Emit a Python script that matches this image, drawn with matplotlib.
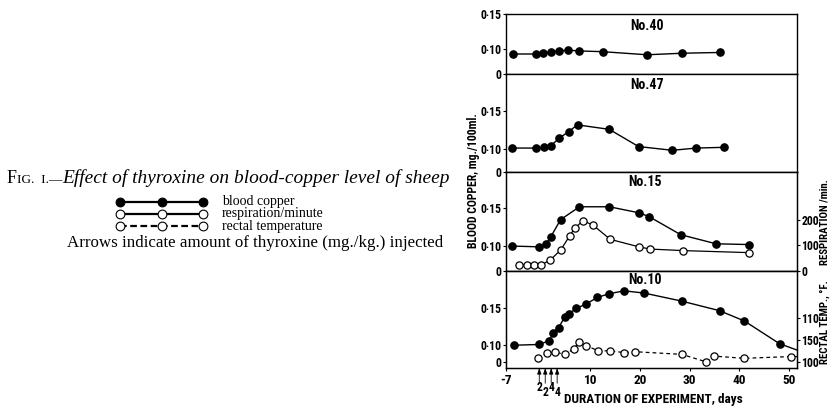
import matplotlib
matplotlib.use('Agg')
import matplotlib.pyplot as plt
from matplotlib.lines import Line2D

# ---- data ----
no40_day = [-5.6, -1.0, 0.5, 2.1, 3.7, 5.4, 7.7, 12.5, 21.4, 28.5, 36.0]
no40_cu = [0.094, 0.094, 0.095, 0.097, 0.098, 0.099, 0.098, 0.097, 0.093, 0.095, 0.096]

no47_day = [-5.8, -1.0, 0.7, 2.0, 3.7, 5.6, 7.4, 13.8, 19.7, 26.5, 31.3, 37.0]
no47_cu = [0.101, 0.101, 0.102, 0.104, 0.114, 0.123, 0.132, 0.126, 0.103, 0.098, 0.101, 0.102]

no15_day = [-5.8, -0.4, 1.1, 2.0, 4.0, 7.8, 13.8, 19.8, 21.8, 28.2, 35.3, 41.9]
no15_cu = [0.100, 0.099, 0.103, 0.112, 0.135, 0.152, 0.152, 0.144, 0.139, 0.115, 0.103, 0.102]
no15_resp_day = [-4.3, -2.8, -1.4, 0.1, 1.9, 4.0, 5.8, 6.8, 8.5, 10.5, 14.0, 19.7, 22.0, 28.6, 41.9]
no15_resp = [24, 24, 24, 24, 43, 82, 137, 167, 197, 180, 124, 95, 86, 80, 72]

no10_day = [-5.3, -0.4, 1.7, 2.5, 3.6, 4.8, 5.7, 7.1, 9.1, 11.4, 13.7, 16.8, 20.8, 28.4, 36.0, 41.0, 48.1, 53.0]
no10_cu = [0.100, 0.101, 0.106, 0.117, 0.124, 0.138, 0.143, 0.150, 0.156, 0.165, 0.170, 0.174, 0.171,
           0.160, 0.147, 0.133, 0.102, 0.090]
no10_temp_day = [-0.6, 1.3, 2.9, 4.8, 6.6, 7.8, 9.1, 11.6, 14.0, 16.8, 19.0, 28.4, 33.3, 34.9, 41.0, 50.3, 53.0]
no10_temp = [100.9, 102.0, 102.3, 101.8, 103.0, 104.7, 103.8, 102.6, 102.6, 102.2, 102.4, 101.8,
             100.1, 101.4, 100.9, 101.3, 101.3]

# injections (mg./kg.)
dose_day = -0.5
dose_labels = ['0·5', '1·5', '4·0']
no10_inject_day = [-0.3, 0.9, 2.1, 3.3]
no10_inject_dose = ['2', '2', '4', '4']

x_ticks = [-7, 10, 20, 30, 40, 50]
temp_ticks = [100, 105, 110]
temp_tick_labels = ['100', '150', '110']
resp_ticks = [0, 100, 200]

plt.rcParams['font.family'] = ['Roboto Condensed', 'Liberation Sans Narrow', 'DejaVu Sans Condensed',
                               'Roboto', 'DejaVu Sans']
plt.rcParams['font.weight'] = 'bold'

W, H = 832, 407
fig = plt.figure(figsize=(W / 100, H / 100), dpi=100)


def fx(px):
    return px / W


def fy(py):
    return 1 - py / H


LEFT, RIGHT = 506, 797
TICK_FS = 8.5


def panel(top, bottom):
    ax = fig.add_axes([fx(LEFT), fy(bottom), (RIGHT - LEFT) / W, (bottom - top) / H])
    ax.set_xlim(-7, 51.6)
    for s in ax.spines.values():
        s.set_linewidth(1.0)
    ax.tick_params(axis='y', direction='out', length=2.5, width=0.8, pad=1, labelsize=TICK_FS)
    ax.tick_params(axis='x', bottom=False, labelbottom=False)
    return ax


filled = dict(color='k', lw=1.0, marker='o', ms=5.2, mfc='k', mec='k')
hollow = dict(color='k', lw=0.9, marker='o', ms=5.2, mfc='white', mec='k', mew=0.9)

ax1 = panel(14, 74)
ax2 = panel(74, 172)
ax3 = panel(172, 271)
ax4 = panel(271, 368)

ax1.set_ylim(0.068, 0.146)
ax1.set_yticks([0.068, 0.10, 0.146], ['0', '0·10', '0·15'])
ax1.plot(no40_day, no40_cu, **filled)

ax2.set_ylim(0.069, 0.200)
ax2.set_yticks([0.069, 0.10, 0.15], ['0', '0·10', '0·15'])
ax2.plot(no47_day, no47_cu, **filled)

ax3.set_ylim(0.067, 0.198)
ax3.set_yticks([0.067, 0.10, 0.15], ['0', '0·10', '0·15'])
ax3.plot(no15_day, no15_cu, **filled)
ax3r = ax3.twinx()
ax3r.set_xlim(-7, 51.6)
ax3r.set_ylim(0, 388)
ax3r.set_yticks(resp_ticks)
ax3r.tick_params(axis='y', direction='out', length=2, width=0.8, pad=1, labelsize=TICK_FS)
ax3r.plot(no15_resp_day, no15_resp, **hollow)

ax4.set_ylim(0.069, 0.201)
ax4.set_yticks([0.0768, 0.10, 0.15], ['0', '0·10', '0·15'])
ax4.plot(no10_day, no10_cu, **filled)
ax4r = ax4.twinx()
ax4r.set_xlim(-7, 51.6)
ax4r.set_ylim(98.7, 120.75)
ax4r.set_yticks(temp_ticks, temp_tick_labels)
ax4r.tick_params(axis='y', direction='out', length=2, width=0.8, pad=1, labelsize=TICK_FS)
ax4r.plot(no10_temp_day, no10_temp, ls=(0, (3, 2.5)), **hollow)

ax4.tick_params(axis='x', bottom=True, labelbottom=True, direction='out', length=2, pad=2, labelsize=9.5)
ax4.set_xticks(x_ticks, [str(t) for t in x_ticks])

# panel titles
for ax, title, xf, yf in [(ax1, 'No.40', 0.485, 0.80), (ax2, 'No.47', 0.485, 0.89),
                          (ax3, 'No.15', 0.478, 0.90), (ax4, 'No.10', 0.478, 0.905)]:
    ax.text(xf, yf, title, transform=ax.transAxes, ha='center', va='center', fontsize=10)

# injection arrows under the upper three panels
for ax, lab in zip([ax1, ax2, ax3], dose_labels):
    tr = ax.get_xaxis_transform()
    ax.annotate('', xy=(dose_day, 0), xycoords=tr, xytext=(0, -7.5), textcoords='offset points',
                arrowprops=dict(arrowstyle='-|>,head_length=0.35,head_width=0.12', color='k', lw=0.6,
                                shrinkA=0, shrinkB=1))
    ax.annotate(lab, xy=(dose_day, 0), xycoords=tr, xytext=(0, -13.5), textcoords='offset points',
                ha='center', va='center', fontsize=9, annotation_clip=False)

tr4 = ax4.get_xaxis_transform()
for i, (d, lab) in enumerate(zip(no10_inject_day, no10_inject_dose)):
    ax4.annotate('', xy=(d, 0), xycoords=tr4, xytext=(0, -11), textcoords='offset points',
                 arrowprops=dict(arrowstyle='-|>,head_length=0.35,head_width=0.12', color='k', lw=0.6,
                                 shrinkA=0, shrinkB=0))
    ax4.annotate(lab, xy=(d, 0), xycoords=tr4, xytext=(0, -14 if i % 2 == 0 else -17.5),
                 textcoords='offset points', ha='center', va='center', fontsize=8.5, annotation_clip=False)

# axis titles
fig.text(fx(473), fy(181), 'BLOOD COPPER, mg./100ml.', rotation=90, ha='center', va='center', fontsize=8.5)
fig.text(fx(824), fy(222), 'RESPIRATION /min.', rotation=90, ha='center', va='center', fontsize=7.8)
fig.text(fx(825), fy(322), 'RECTAL TEMP., °F.', rotation=90, ha='center', va='center', fontsize=7.8)
fig.text(fx(653), fy(399), 'DURATION OF EXPERIMENT, days', ha='center', va='center', fontsize=9.5)

# caption on the left
r = fig.canvas.get_renderer()
serif = 'Liberation Serif'
base = fy(183)
t = fig.text(fx(7), base, 'F', fontsize=13, family=serif, weight='normal', va='baseline')
x = t.get_window_extent(r).x1 / W
t = fig.text(x, base, 'IG.  I.—', fontsize=9.5, family=serif, weight='normal', va='baseline')
x = t.get_window_extent(r).x1 / W
t = fig.text(x, base, 'Effect of thyroxine on blood-copper level of sheep', fontsize=13, family=serif,
             style='italic', weight='normal', va='baseline')
w = t.get_window_extent(r).width
t.set_fontsize(13 * (447 - x * W) / w)

rows = [(202, dict(mfc='k', mec='k', ls='-'), 'blood copper'),
        (213.5, dict(mfc='white', mec='k', ls='-'), 'respiration/minute'),
        (226, dict(mfc='white', mec='k', ls=(0, (3, 1.6))), 'rectal temperature')]
for py, st, lab in rows:
    fig.add_artist(Line2D([fx(120), fx(161.5), fx(203)], [fy(py)] * 3, transform=fig.transFigure,
                          color='k', lw=1.6, marker='o', ms=6.3, mew=0.8, **st))
    fig.text(fx(222), fy(py), lab, fontsize=10, family=serif, weight='normal', va='center')

t = fig.text(fx(67), fy(243), 'Arrows indicate amount of thyroxine (mg./kg.) injected', fontsize=10.5,
             family=serif, weight='normal', va='center')
w = t.get_window_extent(r).width
t.set_fontsize(10.5 * 375 / w)

fig.savefig('out.png', dpi=100)
